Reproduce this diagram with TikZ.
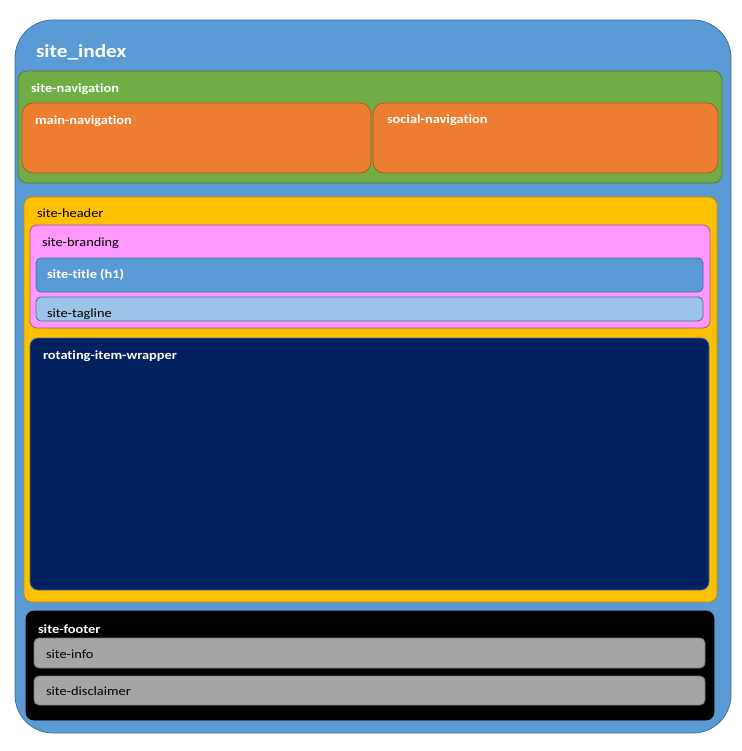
\documentclass[tikz,border=0pt]{standalone}
\usepackage{fontspec}
\setmainfont{Carlito}[FakeStretch=1.15, Ligatures=NoCommon]
\usepackage{tikz}
\usetikzlibrary{positioning}
\definecolor{indexblue}{RGB}{91,155,213}
\definecolor{indexedge}{RGB}{65,113,156}
\definecolor{navgreen}{RGB}{112,173,71}
\definecolor{navedge}{RGB}{80,126,50}
\definecolor{navorange}{RGB}{237,125,49}
\definecolor{orangeedge}{RGB}{174,90,33}
\definecolor{headeryellow}{RGB}{255,192,0}
\definecolor{headeredge}{RGB}{188,140,0}
\definecolor{brandpink}{RGB}{255,153,255}
\definecolor{brandedge}{RGB}{150,90,170}
\definecolor{taglineblue}{RGB}{157,195,230}
\definecolor{wrappernavy}{RGB}{0,32,96}
\definecolor{infogray}{RGB}{165,165,165}
\definecolor{grayedge}{RGB}{120,120,120}

\begin{document}
\begin{tikzpicture}[
    x=1pt, y=-1pt,
    every node/.style={inner sep=0pt, outer sep=0pt},
    block/.style={rectangle, anchor=north west, line width=0.8pt},
    whitelbl/.style={anchor=base west, text=white, font=\bfseries\fontsize{12.5}{15}\selectfont},
    blacklbl/.style={anchor=base west, text=black, font=\fontsize{12.5}{15}\selectfont}
]
\useasboundingbox (0,0) rectangle (741,751);

% outer page
\node[block, rounded corners=38pt, minimum width=716pt, minimum height=713pt, draw=indexedge, fill=indexblue] (site_index) at (15,20) {};
\node[whitelbl, font=\bfseries\fontsize{18.5}{22}\selectfont] (index_lbl) at ([xshift=21pt,yshift=-38pt]site_index.north west) {site\_index};

% navigation
\node[block, rounded corners=9pt, minimum width=704pt, minimum height=112pt, draw=navedge, fill=navgreen] (site_navigation) at (18,71) {};
\node[whitelbl] (navigation_lbl) at ([xshift=13pt,yshift=-22pt]site_navigation.north west) {site-navigation};
\node[block, rounded corners=11pt, minimum width=349pt, minimum height=70pt, draw=orangeedge, fill=navorange] (main_navigation) at (22,103) {};
\node[whitelbl] (main_lbl) at ([xshift=13pt,yshift=-22pt]main_navigation.north west) {main-navigation};
\node[block, rounded corners=11pt, minimum width=345pt, minimum height=70pt, draw=orangeedge, fill=navorange] (social_navigation) at (373,103) {};
\node[whitelbl] (social_lbl) at ([xshift=14pt,yshift=-21pt]social_navigation.north west) {social-navigation};

% header
\node[block, rounded corners=8pt, minimum width=693pt, minimum height=405pt, draw=headeredge, fill=headeryellow] (site_header) at (24,197) {};
\node[blacklbl] (header_lbl) at ([xshift=13pt,yshift=-21pt]site_header.north west) {site-header};
\node[block, rounded corners=7pt, minimum width=680pt, minimum height=103pt, draw=brandedge, fill=brandpink] (site_branding) at (30,225) {};
\node[blacklbl] (branding_lbl) at ([xshift=12pt,yshift=-21pt]site_branding.north west) {site-branding};
\node[block, rounded corners=5pt, minimum width=667pt, minimum height=34pt, draw=indexedge, fill=indexblue] (site_title) at (36,258) {};
\node[whitelbl] (title_lbl) at ([xshift=11pt,yshift=-20pt]site_title.north west) {site-title (h1)};
\node[block, rounded corners=5pt, minimum width=667pt, minimum height=24pt, draw=indexedge, fill=taglineblue] (site_tagline) at (36,297) {};
\node[blacklbl] (tagline_lbl) at ([xshift=11pt,yshift=-20pt]site_tagline.north west) {site-tagline};
\node[block, rounded corners=8pt, minimum width=679pt, minimum height=252pt, draw=indexedge, fill=wrappernavy] (rotating_wrapper) at (30,338) {};
\node[whitelbl] (wrapper_lbl) at ([xshift=13pt,yshift=-21pt]rotating_wrapper.north west) {rotating-item-wrapper};

% footer
\node[block, rounded corners=8pt, minimum width=688pt, minimum height=109pt, draw=black, fill=black] (site_footer) at (26,611) {};
\node[whitelbl] (footer_lbl) at ([xshift=12pt,yshift=-22pt]site_footer.north west) {site-footer};
\node[block, rounded corners=5pt, minimum width=671pt, minimum height=30pt, draw=grayedge, fill=infogray] (site_info) at (34,638) {};
\node[blacklbl] (info_lbl) at ([xshift=12pt,yshift=-20pt]site_info.north west) {site-info};
\node[block, rounded corners=5pt, minimum width=671pt, minimum height=29pt, draw=grayedge, fill=infogray] (site_disclaimer) at (34,676) {};
\node[blacklbl] (disclaimer_lbl) at ([xshift=12pt,yshift=-19pt]site_disclaimer.north west) {site-disclaimer};

\end{tikzpicture}
\end{document}
